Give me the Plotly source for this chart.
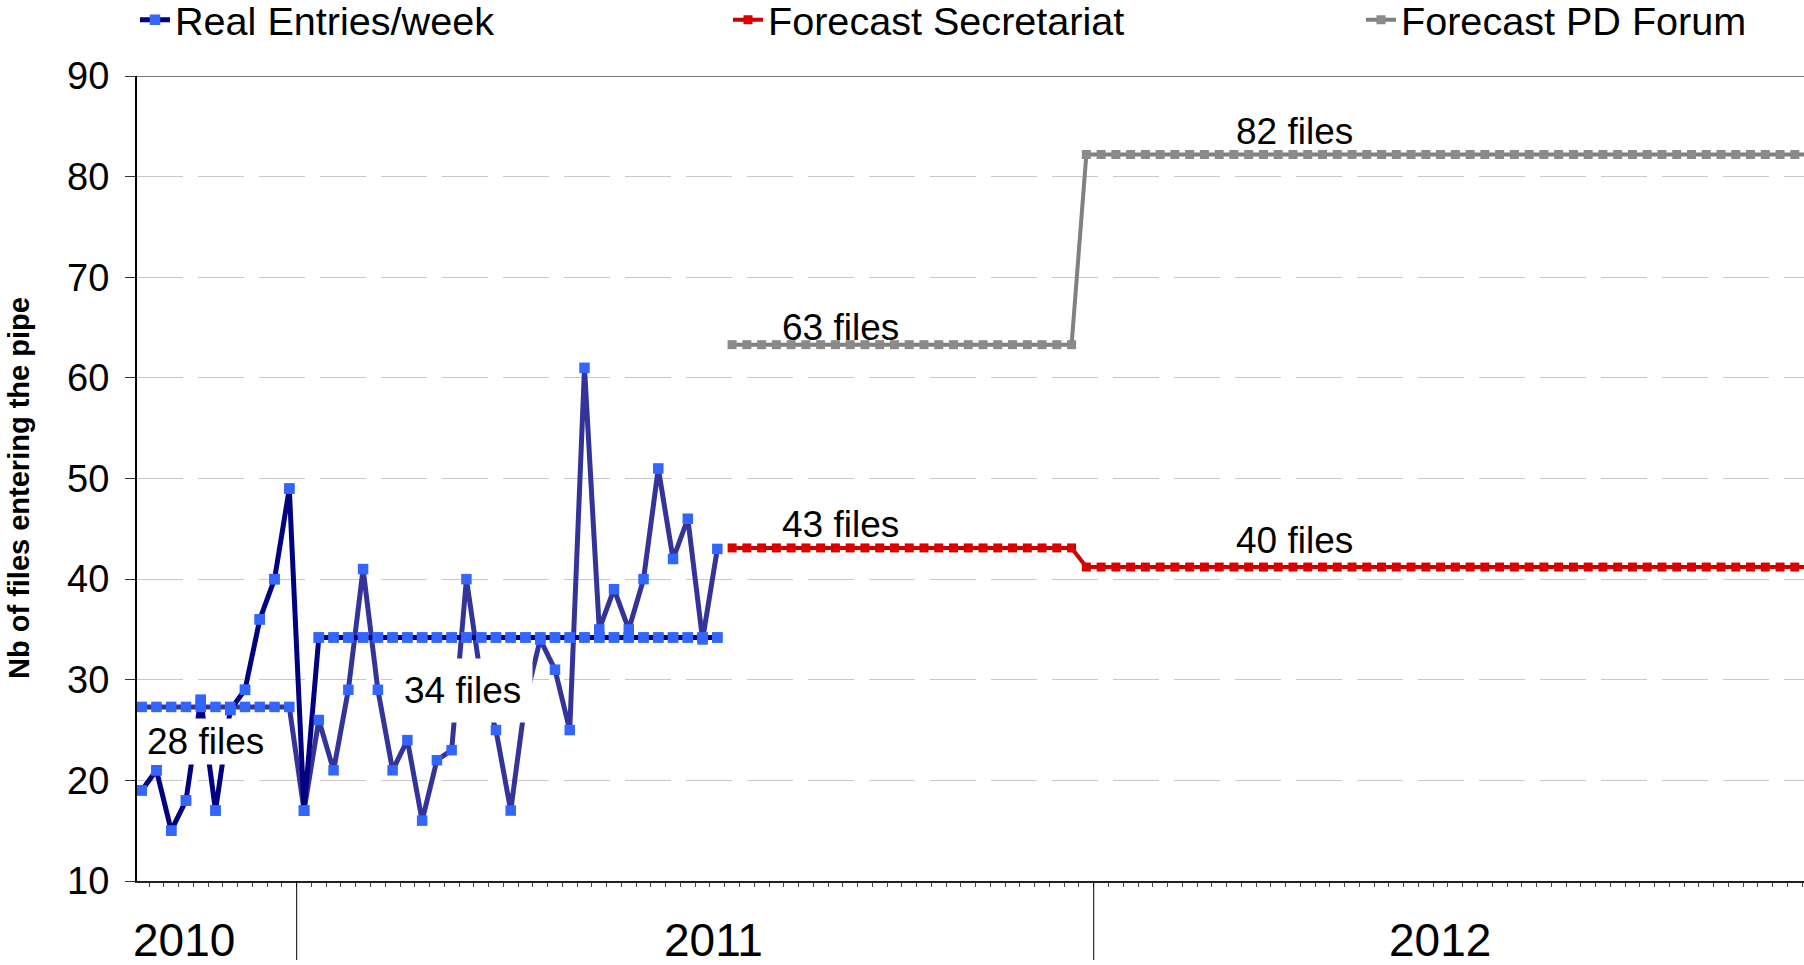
import plotly.graph_objects as go

# ---------------- data ----------------
# weekly real entries, 2010 (weeks 1-11)
real_2010 = [19, 21, 15, 18, 28, 17, 27, 29, 36, 40, 49]
# weekly real entries, 2011 (weeks 12-40)
real_2011 = [17, 26, 21, 29, 41, 29, 21, 24, 16, 22, 23, 40, 30, 25, 17,
             28, 34, 31, 25, 61, 35, 39, 35, 40, 51, 42, 46, 34, 43]
# yearly averages of real entries
avg_2010 = 27.3
avg_2011 = 34.2
# forecasts: level per phase and number of weeks in that phase (weeks 41 ->)
secretariat_levels = [43.1, 41.2]
pd_forum_levels = [63.3, 82.2]
phase_weeks = [24, 50]

year_labels = ["2010", "2011", "2012"]
series_names = ["Real Entries/week", "Forecast Secretariat", "Forecast PD Forum"]
annot_texts = ["28 files", "34 files", "63 files", "43 files", "82 files", "40 files"]

# ---------------- build series ----------------
n10 = len(real_2010)
n_real = n10 + len(real_2011)
weeks_real = list(range(1, n_real + 1))

# series A (navy): 2010 weekly data, first 2011 week, then 2011 average
navy_y = real_2010 + [real_2011[0]] + [avg_2011] * (len(real_2011) - 1)
# series B (indigo): 2010 average, then 2011 weekly data
indigo_y = [avg_2010] * n10 + real_2011

def expand(levels, lengths):
    out = []
    for lv, ln in zip(levels, lengths):
        out += [lv] * ln
    return out

sec_y = expand(secretariat_levels, phase_weeks)
pd_y = expand(pd_forum_levels, phase_weeks)
weeks_fc = list(range(n_real + 1, n_real + 1 + len(sec_y)))

FONT = "Liberation Sans, Arial, sans-serif"
NAVY = "#000080"
INDIGO = "#333399"
MBLUE = "#3366FF"
RED = "#DD0000"
GREY = "#808080"

fig = go.Figure()

fig.add_trace(go.Scatter(x=weeks_real, y=indigo_y, mode="lines",
                         line=dict(color=INDIGO, width=5), showlegend=False,
                         hoverinfo="skip"))
fig.add_trace(go.Scatter(x=weeks_real, y=navy_y, mode="lines+markers",
                         name=series_names[0], legend="legend",
                         line=dict(color=NAVY, width=5),
                         marker=dict(symbol="square", size=10.5, color=MBLUE)))
fig.add_trace(go.Scatter(x=weeks_real, y=indigo_y, mode="markers",
                         marker=dict(symbol="square", size=10.5, color=MBLUE),
                         showlegend=False, hoverinfo="skip"))
fig.add_trace(go.Scatter(x=weeks_real, y=navy_y, mode="markers",
                         marker=dict(symbol="square", size=10.5, color=MBLUE),
                         showlegend=False, hoverinfo="skip"))

fig.add_trace(go.Scatter(x=weeks_fc, y=sec_y, mode="lines+markers",
                         name=series_names[1], legend="legend2",
                         line=dict(color="#CC0000", width=4),
                         marker=dict(symbol="square", size=9, color=RED)))
fig.add_trace(go.Scatter(x=weeks_fc, y=pd_y, mode="lines+markers",
                         name=series_names[2], legend="legend3",
                         line=dict(color=GREY, width=4),
                         marker=dict(symbol="square", size=9, color="#8A8A8A")))

# ---------------- geometry ----------------
W, H = 1804, 965
L, R, T, B = 137, 0, 76, 84
plot_w = W - L - R
plot_h = H - T - B
px_per_week = 14.76
x0 = 1 - (141.7 - L) / px_per_week
x1 = x0 + plot_w / px_per_week

def px2x(px):
    return x0 + (px - L) / px_per_week

def py2paper(py):
    return (H - B - py) / plot_h

def pxpaper(px):
    return (px - L) / plot_w

tick_bounds = [i + 0.5 for i in range(0, int(x1) + 1)]
year_bounds = [n10 + 0.5, n_real + phase_weeks[0] + 1.5]

LEG_FONT = dict(size=39.6, family=FONT, color="black")
fig.update_layout(
    width=W, height=H,
    margin=dict(l=L, r=R, t=T, b=B, autoexpand=False),
    paper_bgcolor="white", plot_bgcolor="white",
    font=dict(family=FONT, color="black"),
    xaxis=dict(range=[x0, x1], showgrid=False, zeroline=False,
               showline=True, linecolor="#222", linewidth=1.5,
               tickmode="array", tickvals=tick_bounds, ticks="outside",
               ticklen=4, tickcolor="#444", tickwidth=1, showticklabels=False),
    yaxis=dict(range=[10, 90], tickmode="linear", tick0=10, dtick=10,
               showgrid=True, gridcolor="#C8C8C8", gridwidth=1,
               griddash="46px,15px", zeroline=False,
               showline=True, linecolor="black", linewidth=2,
               ticks="outside", ticklen=10, tickcolor="#333", tickwidth=1,
               ticklabelstandoff=8,
               tickfont=dict(size=38, family=FONT, color="black")),
    showlegend=True,
    legend=dict(x=pxpaper(135), y=py2paper(20), xanchor="left", yanchor="middle",
                orientation="h", font=LEG_FONT, bgcolor="rgba(0,0,0,0)"),
    legend2=dict(x=pxpaper(728), y=py2paper(20), xanchor="left", yanchor="middle",
                 orientation="h", font=LEG_FONT, bgcolor="rgba(0,0,0,0)"),
    legend3=dict(x=pxpaper(1361), y=py2paper(20), xanchor="left", yanchor="middle",
                 orientation="h", font=LEG_FONT, bgcolor="rgba(0,0,0,0)"),
)

shapes = [dict(type="line", xref="paper", yref="y", x0=0, x1=1, y0=90, y1=90,
               line=dict(color="#7A7A7A", width=2))]
for b in year_bounds:
    shapes.append(dict(type="line", xref="x", yref="paper", x0=b, x1=b,
                       y0=0, y1=py2paper(960), line=dict(color="black", width=1)))
fig.update_layout(shapes=shapes)

annots = []
# value labels (white boxes like the reference)
label_pos = [(205, 741.5, 2), (462.5, 690, 11), (840, 327.5, 0),
             (840, 524, 0), (1294, 131, 0), (1294, 540, 0)]
for txt, (px, py, pad) in zip(annot_texts, label_pos):
    annots.append(dict(text=txt, xref="x", yref="paper", x=px2x(px), y=py2paper(py),
                       xanchor="center", yanchor="middle", showarrow=False,
                       font=dict(size=37, family=FONT, color="black"),
                       bgcolor="white" if pad else None, borderpad=pad))
# year labels
for txt, px in zip(year_labels, [184, 713, 1440]):
    annots.append(dict(text=txt, xref="x", yref="paper", x=px2x(px), y=py2paper(940),
                       xanchor="center", yanchor="middle", showarrow=False,
                       font=dict(size=46, family=FONT, color="black")))
# y axis title
annots.append(dict(text="<b>Nb of files entering the pipe</b>", xref="paper", yref="paper",
                   x=pxpaper(19), y=py2paper(488), textangle=-90,
                   xanchor="center", yanchor="middle", showarrow=False,
                   font=dict(size=29, family=FONT, color="black")))
fig.update_layout(annotations=annots)

fig.write_html("out.html", include_plotlyjs=True, config={"displayModeBar": False},
               post_script="document.body.style.margin='0';document.body.style.overflow='hidden';")
